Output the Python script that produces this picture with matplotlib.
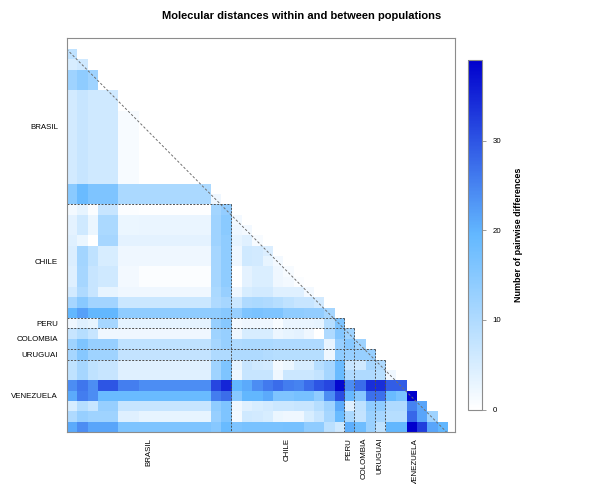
import numpy as np
import matplotlib
matplotlib.use("Agg")
import matplotlib.pyplot as plt
from matplotlib.colors import LinearSegmentedColormap

plt.rcParams["font.family"] = ["Liberation Sans", "DejaVu Sans"]

# Populations and how many sequences each contributes (in matrix order)
populations = ["BRASIL", "CHILE", "PERU", "COLOMBIA", "URUGUAI", "VENEZUELA"]
sequences_per_population = [16, 11, 1, 2, 1, 7]

# Lower triangle of the pairwise-difference matrix: each row holds the
# differences between one sequence and every sequence before it.
brasil_rows = [
    [8],
    [5, 6],
    [12, 14, 12],
    [12, 14, 12, 0],
    [5.5, 7, 6, 6, 6],
    [5.5, 7, 6, 6, 6, 0],
    [5.5, 7, 6, 6, 6, 1, 1],
    [5.5, 7, 6, 6, 6, 1, 1, 0],
    [5.5, 7, 6, 6, 6, 1, 1, 0, 0],
    [5.5, 7, 6, 6, 6, 1, 1, 0, 0, 0],
    [5.5, 7, 6, 6, 6, 1, 1, 0, 0, 0, 0],
    [5.5, 7, 6, 6, 6, 1, 1, 0, 0, 0, 0, 0],
    [5.5, 7, 6, 6, 6, 1, 1, 0, 0, 0, 0, 0, 0],
    [14.5, 18.5, 16, 16, 16, 10.5, 10.5, 10.5, 10.5, 10.5, 10.5, 10.5, 10.5, 10.5],
    [14.5, 18.5, 16, 16, 16, 10.5, 10.5, 10.5, 10.5, 10.5, 10.5, 10.5, 10.5, 10.5, 2],
]

chile_rows = [
    [1.4, 3, 0.5, 7, 7, 0.5, 0.5, 0.3, 0.3, 0.3, 0.3, 0.3, 0.3, 0.3, 11.5, 13.5],
    [3.5, 6, 2.5, 10.5, 10.5, 2.5, 2.5, 2.6, 2.6, 2.6, 2.6, 2.6, 2.6, 2.6, 12, 14.5,
     1.5],
    [3.5, 6, 2.5, 10.5, 10.5, 2.5, 2.5, 2.6, 2.6, 2.6, 2.6, 2.6, 2.6, 2.6, 12, 14.5,
     2, 1.4],
    [4, 2.5, 0, 11, 11, 3.5, 3.5, 3.5, 3.5, 3.5, 3.5, 3.5, 3.5, 3.5, 12, 14,
     2.9, 4, 1],
    [4.5, 11.5, 8, 5, 5, 2, 2, 2, 2, 2, 2, 2, 2, 2, 11, 14,
     2, 6, 5.5, 4.5],
    [4.5, 11.5, 8, 5, 5, 2, 2, 2, 2, 2, 2, 2, 2, 2, 11, 14,
     2, 6, 5.5, 3, 1.4],
    [4, 11, 7, 6, 6, 1.4, 1.4, 0.5, 0.5, 0.5, 0.5, 0.5, 0.5, 0.5, 11, 14,
     0, 3.4, 4.6, 4.6, 2, 1],
    [4, 11, 7, 6, 6, 1.4, 1.4, 0.5, 0.5, 0.5, 0.5, 0.5, 0.5, 0.5, 11, 14,
     0, 3.4, 4.6, 4.6, 2, 1.5, 0.5],
    [5.5, 10, 7, 3, 3, 2, 2, 2, 2, 2, 2, 2, 2, 2, 10.5, 13,
     2, 5, 5.5, 5.5, 4, 4, 4, 1.5],
    [11, 14.7, 11.7, 11.7, 11.7, 6.7, 6.7, 6.7, 6.7, 6.7, 6.7, 6.7, 6.7, 6.7, 10, 11,
     6.4, 10, 10.5, 10, 9, 8, 7, 7, 5.5],
    [19.6, 22, 19.6, 19.6, 19.6, 14, 14, 14, 14, 14, 14, 14, 14, 14, 14, 15,
     13, 16, 16.5, 16, 16, 14, 14, 13.5, 13.5, 11],
]

peru_rows = [
    [2, 4, 3, 11, 11, 3.2, 3.2, 3.2, 3.2, 3.2, 3.2, 3.2, 3.2, 3.2, 13, 15,
     1.5, 2, 2, 2, 0.8, 2.6, 2.6, 2.6, 2.9, 9, 16],
]

colombia_rows = [
    [7, 9, 7, 2, 2, 2, 2, 2, 2, 2, 2, 2, 2, 2, 12, 13,
     2, 5, 5, 5, 2.3, 3, 3.5, 2, 0, 10, 15.5, 12],
    [12, 16, 13, 13, 13, 8, 8, 8, 8, 8, 8, 8, 8, 8, 11, 13,
     10, 10.5, 10.5, 10.5, 10, 10, 10, 10, 10, 2.8, 13, 15, 12],
]

uruguai_rows = [
    [11, 15, 12, 12, 12, 7.5, 7.5, 7.5, 7.5, 7.5, 7.5, 7.5, 7.5, 7.5, 10, 10,
     10, 10, 10, 9.5, 9, 9, 9, 9, 9, 2, 14, 13, 13, 13],
]

venezuela_rows = [
    [8, 11, 8, 7, 7, 4, 4, 4, 4, 4, 4, 4, 4, 4, 12, 16,
     3, 7, 6, 5.5, 1.5, 2.5, 5, 5, 9, 11, 18.5, 7, 6, 11, 10],
    [8, 11, 8, 7, 7, 4, 4, 4, 4, 4, 4, 4, 4, 4, 12, 16,
     2, 7, 7, 7, 2, 6.4, 6.4, 6.4, 7.5, 11, 18.7, 10, 10, 10, 9, 2],
    [24, 26.5, 24, 30, 30, 25.5, 25.5, 24, 24, 24, 24, 24, 24, 24, 31.5, 35,
     19.6, 21, 24, 26, 27.5, 25.6, 25, 27.5, 30, 31.5, 38, 24, 27.5, 34, 34, 29, 29],
    [21, 25.6, 24, 18.7, 18.7, 18.7, 18.7, 18.7, 18.7, 18.7, 18.7, 18.7, 18.7, 18.7, 25.6, 27.3,
     15, 19.6, 19.6, 21, 16, 16, 17, 17, 14, 24, 30.7, 19, 15, 27, 27, 18.7, 16.7, 39],
    [5, 9, 7, 13, 13, 7, 7, 7, 7, 7, 7, 7, 7, 7, 14, 16,
     2, 4, 5, 5.5, 6.4, 6.4, 7, 7, 9, 12, 21, 4, 8, 14, 14, 10, 10, 25, 21.4],
    [10, 13, 12, 12, 12, 4, 4, 3, 3, 3, 3, 3, 3, 3, 13, 16,
     1.4, 6, 5.5, 5, 2.5, 2, 2, 5, 7, 11, 18.7, 10.5, 7.5, 12.5, 11, 9, 9, 28, 21.4, 12],
    [21, 24, 21.4, 21.4, 21.4, 16, 16, 16, 16, 16, 16, 16, 16, 16, 15, 18.7,
     16, 16.7, 16.7, 16.7, 16.7, 17, 17, 14, 14, 8.5, 6, 20.5, 18, 12.5, 8, 19.6, 19.6, 39, 32.4, 21.4, 19.6],
]

colorbar_ticks = [0, 10, 20, 30]

# ---- assemble the triangular matrix -------------------------------------
all_rows = (brasil_rows + chile_rows + peru_rows + colombia_rows
            + uruguai_rows + venezuela_rows)
n = len(all_rows)
mat = np.full((n, n), np.nan)
for r, row in enumerate(all_rows):
    mat[r, :len(row)] = row
mat = np.ma.masked_invalid(mat)

starts = np.concatenate([[0], np.cumsum(sequences_per_population)[:-1]])
ends = np.cumsum(sequences_per_population)
col_lo = starts
col_hi = np.minimum(ends, n)
row_lo = np.maximum(starts - 1, 0)
row_hi = ends - 1

vmax = 39
cmap = LinearSegmentedColormap.from_list(
    "pairdiff", ["#FFFFFF", "#63B8FF", "#0000CD"])

fig = plt.figure(figsize=(5.92, 4.84), dpi=100)
ax = fig.add_axes([66.5 / 592, 52 / 484, 388.5 / 592, 394 / 484])

im = ax.imshow(mat, cmap=cmap, vmin=0, vmax=vmax, interpolation="nearest",
               extent=(0, n, n, 0), aspect="auto")
ax.set_xlim(0, n * 388.5 / 380)
ax.set_ylim(n, -n * 11 / 383)

# main diagonal
ax.plot([0, n], [0, n], color="#707070", lw=0.7, ls=(0, (2.5, 2)))

# population separators
for cb, rb in zip(col_lo[1:], row_lo[1:]):
    ax.plot([0, cb], [rb, rb], color="#505050", lw=0.7, ls=(0, (2, 1.5)))
    ax.plot([cb, cb], [rb, n], color="#505050", lw=0.7, ls=(0, (2, 1.5)))

ax.set_xticks((col_lo + col_hi) / 2)
ax.set_xticklabels(populations, rotation=90, fontsize=5.7)
ax.set_yticks((row_lo + row_hi) / 2)
ax.set_yticklabels(populations, fontsize=5.7)
ax.tick_params(axis="x", length=0, pad=4.3)
ax.tick_params(axis="y", length=0, pad=6)
for s in ax.spines.values():
    s.set_color("#8c8c8c")
    s.set_linewidth(0.8)

fig.text(302 / 592, 1 - 16 / 484,
         "Molecular distances within and between populations",
         ha="center", va="center", fontsize=8, fontweight="bold")

cax = fig.add_axes([468.3 / 592, 74.5 / 484, 13.4 / 592, 349.5 / 484])
cb = fig.colorbar(im, cax=cax, ticks=colorbar_ticks)
cb.outline.set_edgecolor("#8c8c8c")
cb.outline.set_linewidth(0.8)
cax.tick_params(labelsize=5.7, length=3, width=0.6, color="#8c8c8c", pad=5)
cb.set_label("Number of pairwise differences", fontsize=6.5, fontweight="bold",
             labelpad=9)

fig.savefig("out.png", dpi=100)
